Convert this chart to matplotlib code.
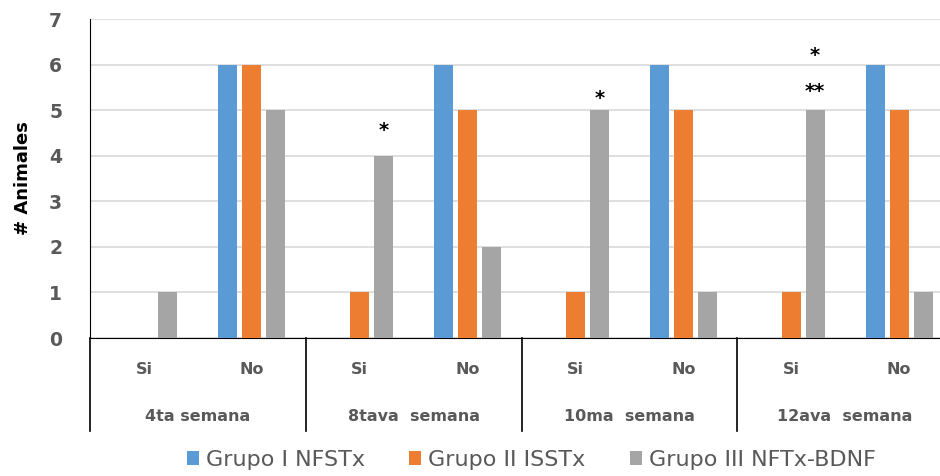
import matplotlib.pyplot as plt
import numpy as np

# data
weeks = ['4ta semana', '8tava  semana', '10ma  semana', '12ava  semana']
answers = ['Si', 'No']
groups = ['Grupo I NFSTx', 'Grupo II ISSTx', 'Grupo III NFTx-BDNF']
colours = ['#5b9bd5', '#ed7d31', '#a5a5a5']
grupo1 = [0, 6, 0, 6, 0, 6, 0, 6]
grupo2 = [0, 6, 1, 5, 1, 5, 1, 5]
grupo3 = [1, 5, 4, 2, 5, 1, 5, 1]
# significance marks: (sub-category index, y, text)
marks = [(2, 4.55, '*'), (4, 5.25, '*'), (6, 5.42, '**'), (6, 6.2, '*')]

grey = '#595959'

fig = plt.figure(figsize=(9.4, 4.76), dpi=100)
ax = fig.add_axes([90/940, 138/476, 863/940, 319/476])

x = np.arange(len(grupo1)) + 0.5
offset = 0.222
width = 0.176
for i, (vals, col) in enumerate(zip([grupo1, grupo2, grupo3], colours)):
    ax.bar(x + (i - 1)*offset, vals, width, color=col, label=groups[i], zorder=3)

for idx, yv, txt in marks:
    ax.text(x[idx] + offset, yv, txt, ha='center', va='center', fontsize=14,
            fontweight='bold', color='black')

ax.set_xlim(0, len(grupo1))
ax.set_ylim(0, 7)
ax.set_yticks(range(0, 8))
ax.yaxis.grid(True, color='#d9d9d9', lw=1.2, zorder=0)
ax.set_axisbelow(True)
for s in ['top', 'right']:
    ax.spines[s].set_visible(False)
ax.spines['left'].set_color('black')
ax.spines['bottom'].set_color('black')
ax.tick_params(axis='y', length=0, pad=20, labelsize=13.5, labelcolor=grey)
for lab in ax.get_yticklabels():
    lab.set_fontweight('bold')
ax.set_xticks([])
ax.set_ylabel('# Animales', fontsize=13, fontweight='bold', labelpad=12)

# multi-level category axis
trans = ax.get_xaxis_transform()
for k in range(len(x)):
    ax.text(x[k], -0.1, answers[k % 2], transform=trans, ha='center', va='center',
            fontsize=11.5, fontweight='bold', color=grey)
for w, name in enumerate(weeks):
    ax.text(2*w + 1, -0.245, name, transform=trans, ha='center', va='center',
            fontsize=11.5, fontweight='bold', color=grey)
for w in range(len(weeks) + 1):
    ax.plot([2*w, 2*w], [0, -0.292], transform=trans, color='black', lw=1.2,
            clip_on=False)

handles, labels = ax.get_legend_handles_labels()
fig.legend(handles, labels, loc='center', bbox_to_anchor=(0.565, 16/476), ncol=3,
           frameon=False, fontsize=16, handlelength=0.55, handleheight=0.55,
           handletextpad=0.3, columnspacing=2.0, labelcolor=grey)

fig.savefig('out.png', dpi=100)
